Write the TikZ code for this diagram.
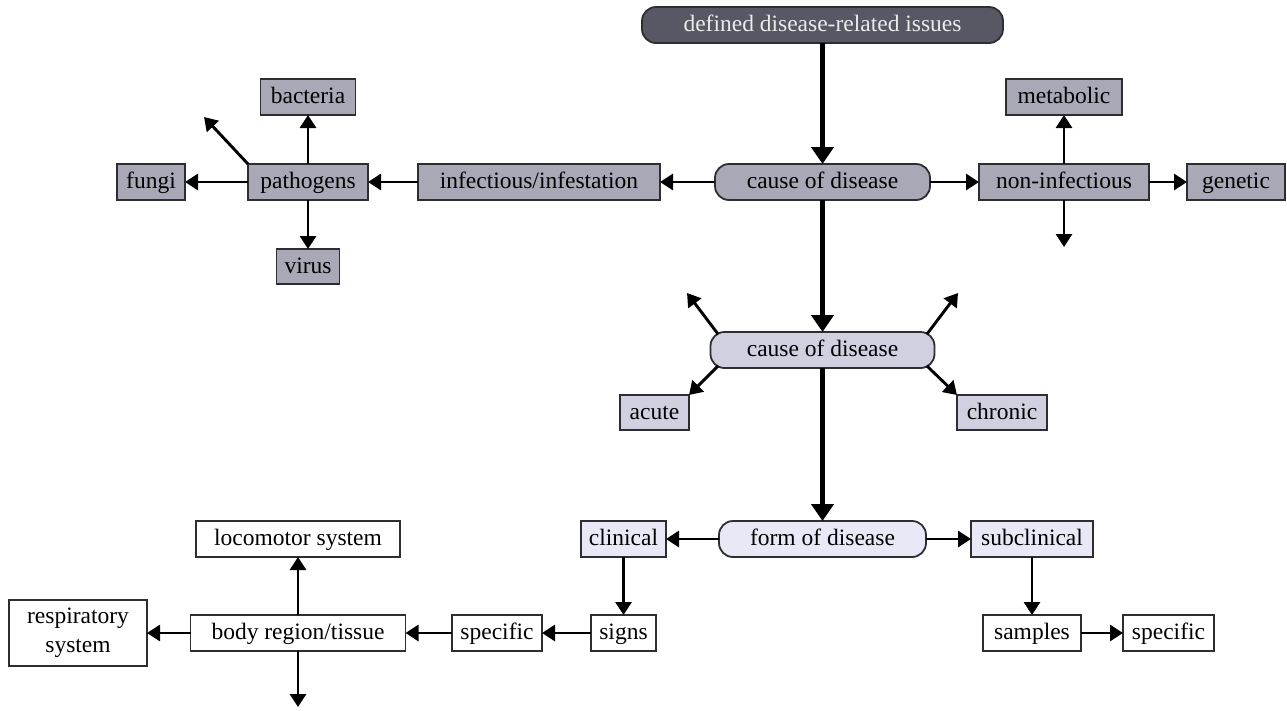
\documentclass[tikz,border=0pt]{standalone}
\usepackage{fontspec}
\setmainfont{Liberation Serif}
\usetikzlibrary{arrows.meta}
\definecolor{topfill}{RGB}{88,88,100}
\definecolor{grayfill}{RGB}{168,168,182}
\definecolor{lavfill}{RGB}{208,208,224}
\definecolor{palefill}{RGB}{232,232,246}
\definecolor{bordercol}{RGB}{45,45,50}
\tikzset{
  base/.style={draw=bordercol, line width=1.8pt, inner sep=0pt, outer sep=0pt,
    minimum height=36pt, align=center, font=\fontsize{23.5}{29}\selectfont},
  oneline/.style={text height=18.5pt, text depth=5.5pt},
  sqbox/.style={base, oneline, rectangle},
  rndbox/.style={base, oneline, rectangle, rounded corners=14pt},
  topbox/.style={rndbox, fill=topfill, text=white!92!black},
  graybox/.style={sqbox, fill=grayfill},
  grayrnd/.style={rndbox, fill=grayfill},
  lavbox/.style={sqbox, fill=lavfill},
  lavrnd/.style={rndbox, fill=lavfill},
  palebox/.style={sqbox, fill=palefill},
  palernd/.style={rndbox, fill=palefill},
  whitebox/.style={sqbox, fill=white},
  twolinebox/.style={base, rectangle, fill=white},
  thinarrow/.style={line width=2.9pt, -{Triangle[length=13pt,width=16pt]}},
  thickarrow/.style={line width=4.5pt, -{Triangle[length=17pt,width=22pt]}},
}
\begin{document}
\begin{tikzpicture}[x=1pt,y=-1pt]
\useasboundingbox (0,0) rectangle (1287,710);
% nodes
\node[topbox, minimum width=361pt] (top) at (822.5,25) {defined disease-related issues};
\node[grayrnd, minimum width=215pt] (cause1) at (822.5,182) {cause of disease};
\node[graybox, minimum width=242pt] (infect) at (539,182) {infectious/infestation};
\node[graybox, minimum width=120pt] (path) at (308,182) {pathogens};
\node[graybox, minimum width=68pt] (fungi) at (151,182) {fungi};
\node[graybox, minimum width=95pt] (bact) at (308,97) {bacteria};
\node[graybox, minimum width=63pt, minimum height=35pt] (virus) at (308,266.5) {virus};
\node[graybox, minimum width=170pt] (noninf) at (1064,182) {non-infectious};
\node[graybox, minimum width=98pt] (genetic) at (1236,182) {genetic};
\node[graybox, minimum width=116pt] (metab) at (1064,97) {metabolic};
\node[lavrnd, minimum width=224pt] (cause2) at (822.5,350) {cause of disease};
\node[lavbox, minimum width=69pt, minimum height=35pt] (acute) at (654.5,412.5) {acute};
\node[lavbox, minimum width=90pt, minimum height=35pt] (chronic) at (1002,412.5) {chronic};
\node[palernd, minimum width=207pt] (form) at (822.5,539) {form of disease};
\node[palebox, minimum width=85pt] (clin) at (623.5,539) {clinical};
\node[palebox, minimum width=122pt] (subclin) at (1032,539) {subclinical};
\node[whitebox, minimum width=65pt] (signs) at (623.5,633) {signs};
\node[whitebox, minimum width=90pt] (specL) at (497,633) {specific};
\node[whitebox, minimum width=215pt] (body) at (298,633) {body region/tissue};
\node[twolinebox, minimum width=138pt, minimum height=66pt] (resp) at (78,633) {respiratory\\system};
\node[whitebox, minimum width=204pt] (loco) at (298,539) {locomotor system};
\node[whitebox, minimum width=98pt] (samples) at (1032,633) {samples};
\node[whitebox, minimum width=91pt] (specR) at (1168.5,633) {specific};
% free ends
\coordinate (pathdiag) at (204,117);
\coordinate (nonindown) at (1064,247);
\coordinate (c2nw) at (718,334);
\coordinate (c2ne) at (927,334);
\coordinate (c2sw) at (718,366);
\coordinate (c2se) at (927,366);
\coordinate (c2nwend) at (687,293);
\coordinate (c2neend) at (958,293);
\coordinate (bodydown) at (298,707);
% thick connectors
\draw[thickarrow] (top) -- (cause1);
\draw[thickarrow] (cause1) -- (cause2);
\draw[thickarrow] (cause2) -- (form);
% thin connectors
\draw[thinarrow] (cause1) -- (infect);
\draw[thinarrow] (infect) -- (path);
\draw[thinarrow] (path) -- (fungi);
\draw[thinarrow] (path) -- (bact);
\draw[thinarrow] (path) -- (virus);
\draw[thinarrow] (path.north west) -- (pathdiag);
\draw[thinarrow] (cause1) -- (noninf);
\draw[thinarrow] (noninf) -- (genetic);
\draw[thinarrow] (noninf) -- (metab);
\draw[thinarrow] (noninf) -- (nonindown);
\draw[thinarrow] (c2nw) -- (c2nwend);
\draw[thinarrow] (c2ne) -- (c2neend);
\draw[thinarrow] (c2sw) -- (acute.north east);
\draw[thinarrow] (c2se) -- (chronic.north west);
\draw[thinarrow] (form) -- (clin);
\draw[thinarrow] (form) -- (subclin);
\draw[thinarrow] (clin) -- (signs);
\draw[thinarrow] (signs) -- (specL);
\draw[thinarrow] (specL) -- (body);
\draw[thinarrow] (body) -- (resp);
\draw[thinarrow] (body) -- (loco);
\draw[thinarrow] (body) -- (bodydown);
\draw[thinarrow] (subclin) -- (samples);
\draw[thinarrow] (samples) -- (specR);
\end{tikzpicture}
\end{document}
